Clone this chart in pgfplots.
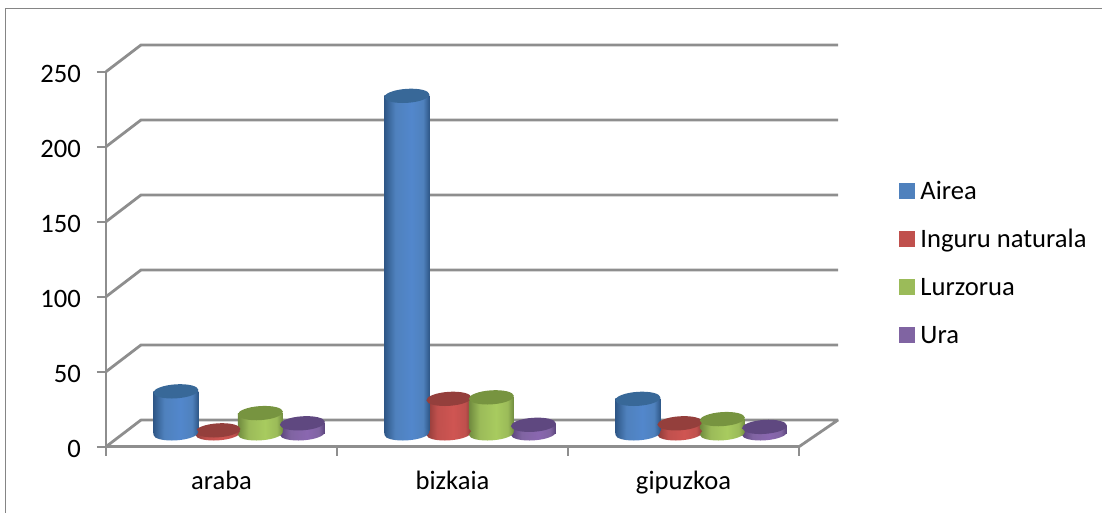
\documentclass[border=0pt]{standalone}
\usepackage{pgfplots}
\usepackage{pgfplotstable}
\usepackage{fontspec}
\setmainfont{Carlito}
\pgfplotsset{compat=1.18}

\definecolor{gridgray}{HTML}{8E8E8E}
\definecolor{framegray}{HTML}{858585}
\definecolor{aireaC}{HTML}{4F81BD}
\definecolor{inguruC}{HTML}{C0504D}
\definecolor{lurC}{HTML}{9BBB59}
\definecolor{uraC}{HTML}{8064A2}
\definecolor{aireaE}{HTML}{2E5787}\definecolor{aireaM}{HTML}{5287CC}\definecolor{aireaT}{HTML}{386898}
\definecolor{inguruE}{HTML}{8C3A37}\definecolor{inguruM}{HTML}{CF5552}\definecolor{inguruT}{HTML}{943F3C}
\definecolor{lurE}{HTML}{6F8A3E}\definecolor{lurM}{HTML}{A8CB5F}\definecolor{lurT}{HTML}{779440}
\definecolor{uraE}{HTML}{59437A}\definecolor{uraM}{HTML}{8A67B0}\definecolor{uraT}{HTML}{5F4880}

\pgfdeclarehorizontalshading{aireaS}{100bp}{color(0bp)=(aireaE);color(25bp)=(aireaE);color(37bp)=(aireaC);color(55bp)=(aireaM);color(68bp)=(aireaC);color(75bp)=(aireaE);color(100bp)=(aireaE)}
\pgfdeclarehorizontalshading{inguruS}{100bp}{color(0bp)=(inguruE);color(25bp)=(inguruE);color(37bp)=(inguruC);color(55bp)=(inguruM);color(68bp)=(inguruC);color(75bp)=(inguruE);color(100bp)=(inguruE)}
\pgfdeclarehorizontalshading{lurS}{100bp}{color(0bp)=(lurE);color(25bp)=(lurE);color(37bp)=(lurC);color(55bp)=(lurM);color(68bp)=(lurC);color(75bp)=(lurE);color(100bp)=(lurE)}
\pgfdeclarehorizontalshading{uraS}{100bp}{color(0bp)=(uraE);color(25bp)=(uraE);color(37bp)=(uraC);color(55bp)=(uraM);color(68bp)=(uraC);color(75bp)=(uraE);color(100bp)=(uraE)}

\newcommand\ellpath{\pgfpathellipse{\pgfpointorigin}{\pgfqpoint{22.5pt}{1.5pt}}{\pgfqpoint{-0.5pt}{7pt}}}
\pgfdeclareplotmark{aireaB}{\ellpath\pgfshadepath{aireaS}{0}\pgfusepath{discard}}
\pgfdeclareplotmark{inguruB}{\ellpath\pgfshadepath{inguruS}{0}\pgfusepath{discard}}
\pgfdeclareplotmark{lurB}{\ellpath\pgfshadepath{lurS}{0}\pgfusepath{discard}}
\pgfdeclareplotmark{uraB}{\ellpath\pgfshadepath{uraS}{0}\pgfusepath{discard}}
\pgfdeclareplotmark{cyltop}{\ellpath\pgfusepath{fill}}

\pgfplotstableread{
x v
0 28
1 225
2 23
}\airea
\pgfplotstableread{
x v
0 2
1 23
2 6.7
}\inguru
\pgfplotstableread{
x v
0 13.5
1 24
2 9.5
}\lurzorua
\pgfplotstableread{
x v
0 6.7
1 5.7
2 4.3
}\ura

% one shaded bar per category, so that each cylinder has its own shading
% #1 table, #2 shift, #3 shading, #4 bottom mark, #5 top colour
\newcommand\cyl[5]{%
  \addplot[only marks, mark=#4, mark options={xshift=#2}] table[x=x, y expr=0] {#1};
  \addplot[ybar, bar width=45pt, bar shift=#2, draw=none, shade, shading=#3, restrict x to domain=-0.1:0.1] table[x=x, y=v] {#1};
  \addplot[ybar, bar width=45pt, bar shift=#2, draw=none, shade, shading=#3, restrict x to domain=0.9:1.1] table[x=x, y=v] {#1};
  \addplot[ybar, bar width=45pt, bar shift=#2, draw=none, shade, shading=#3, restrict x to domain=1.9:2.1] table[x=x, y=v] {#1};
  \addplot[only marks, mark=cyltop, mark options={xshift=#2, fill=#5, draw=none}] table[x=x, y=v] {#1};
}

\begin{document}
\begin{tikzpicture}[x=1pt,y=1pt]
\path[use as bounding box] (-106pt,-66.3pt) rectangle (996pt,446.7pt);
\begin{axis}[
  at={(0pt,0pt)}, anchor=south west,
  scale only axis, width=693pt, height=375pt,
  xmin=0, xmax=3, ymin=0, ymax=250,
  clip=false,
  axis x line*=bottom, axis y line*=left,
  axis line style={gridgray, line width=2.6pt, -},
  tick align=outside,
  major tick length=9pt, minor tick length=9pt,
  tick style={gridgray, line width=1.8pt},
  major x tick style={draw=none},
  xtick={0.5,1.5,2.5}, xticklabels={araba,bizkaia,gipuzkoa},
  minor xtick={0,1,2,3},
  ytick={0,50,100,150,200,250},
  /pgf/number format/assume math mode=true,
  tick label style={font=\fontsize{26.6}{30}\selectfont},
  xticklabel style={anchor=base, yshift=-34pt, inner sep=0pt},
  yticklabel style={anchor=east, xshift=-16pt, yshift=-2.5pt, inner sep=0pt},
  legend style={draw=none, fill=none, at={(axis cs:3.433,177)}, anchor=north west,
    inner sep=0pt, outer sep=0pt, /tikz/row sep=24pt,
    /tikz/column 1/.style={column sep=6pt},
    nodes={inner sep=0pt, text height=18pt, text depth=6pt, font=\fontsize{26.6}{30}\selectfont}},
  legend cell align=left,
]
% frame of the chart area
\addplot[framegray, line width=1.6pt, forget plot] coordinates {(-0.435,-44.2) (-0.435,292.1) (4.31,292.1)};
% walls and floor
\addplot[gridgray, line width=2.8pt, line join=bevel, forget plot] coordinates {(0,0) (0.1515,17.8) (3.169,17.8) (3,0)};
\addplot[gridgray, line width=2.8pt, forget plot] coordinates {(0,50) (0.1515,67.8) (3.169,67.8)};
\addplot[gridgray, line width=2.8pt, forget plot] coordinates {(0,100) (0.1515,117.8) (3.169,117.8)};
\addplot[gridgray, line width=2.8pt, forget plot] coordinates {(0,150) (0.1515,167.8) (3.169,167.8)};
\addplot[gridgray, line width=2.8pt, forget plot] coordinates {(0,200) (0.1515,217.8) (3.169,217.8)};
\addplot[gridgray, line width=2.8pt, forget plot] coordinates {(0,250) (0.1515,267.8) (3.169,267.8)};
\addlegendimage{legend image code/.code={\fill[aireaC] (0pt,-5pt) rectangle (15pt,10pt);}}
\addlegendimage{legend image code/.code={\fill[inguruC] (0pt,-5pt) rectangle (15pt,10pt);}}
\addlegendimage{legend image code/.code={\fill[lurC] (0pt,-5pt) rectangle (15pt,10pt);}}
\addlegendimage{legend image code/.code={\fill[uraC] (0pt,-5pt) rectangle (15pt,10pt);}}
\legend{Airea,Inguru naturala,Lurzorua,Ura}
\end{axis}
\begin{axis}[
  at={(0pt,0pt)}, anchor=south west,
  scale only axis, width=693pt, height=375pt,
  xmin=-0.5775, xmax=2.4225, ymin=-8.9, ymax=241.1,
  clip=false, hide axis,
]
\cyl{\inguru}{-21.5pt}{inguruS}{inguruB}{inguruT}
\cyl{\ura}{63pt}{uraS}{uraB}{uraT}
\cyl{\airea}{-63.5pt}{aireaS}{aireaB}{aireaT}
\cyl{\lurzorua}{21pt}{lurS}{lurB}{lurT}
\end{axis}
\end{tikzpicture}
\end{document}
